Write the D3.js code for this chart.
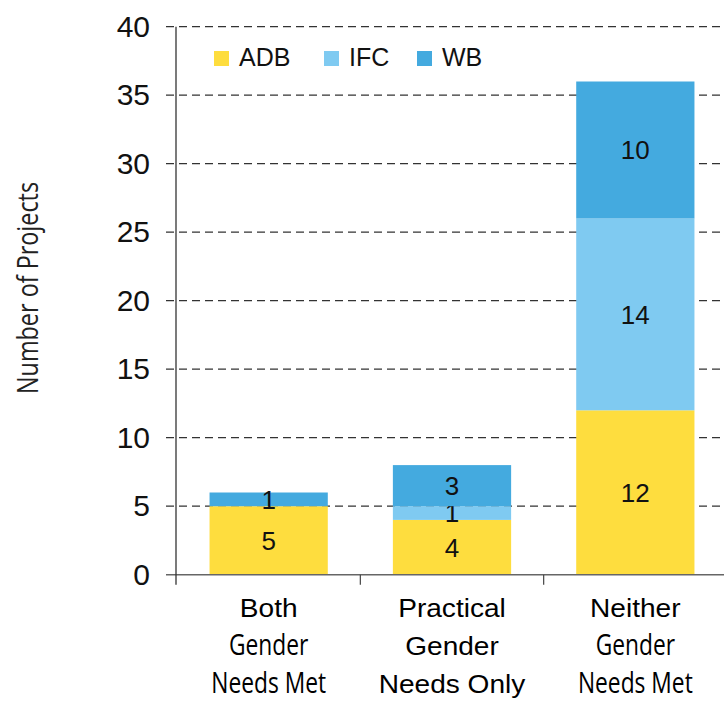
<!DOCTYPE html>
<html>
<head>
<meta charset="utf-8">
<script src="https://cdn.jsdelivr.net/npm/d3@7"></script>
<style>
  body { margin: 0; background: #fff; }
  svg { display: block; }
</style>
</head>
<body>
<svg id="chart" width="724" height="702"></svg>
<script>
const categories = ['both', 'practical', 'neither']
const categoryLines = [
  [{ t: 'Both', narrow: false }, { t: 'Gender', narrow: true }, { t: 'Needs Met', narrow: true }],
  [{ t: 'Practical', narrow: false }, { t: 'Gender', narrow: false }, { t: 'Needs Only', narrow: false }],
  [{ t: 'Neither', narrow: false }, { t: 'Gender', narrow: true }, { t: 'Needs Met', narrow: true }]
]
const seriesNames = ['ADB', 'IFC', 'WB']
const adbValues = [5, 4, 12]
const ifcValues = [0, 1, 14]
const wbValues = [1, 3, 10]
const yTicks = [0, 5, 10, 15, 20, 25, 30, 35, 40]
const colors = { ADB: '#FEDD3E', IFC: '#7FCAF1', WB: '#44AADF' }

const sans = '"Liberation Sans", Arial, sans-serif'
const narrow = '"Open Sans", "Noto Sans", sans-serif'

const svg = d3.select('#chart')

const x = d3.scaleBand()
  .domain(categories)
  .range([177, 727])
  .paddingInner(0.355)
  .paddingOuter(0.1775)

const y = d3.scaleLinear()
  .domain([0, 40])
  .range([574.7, 26.7])

// Table for stacking
const table = categories.map((c, i) => ({
  cat: c, ADB: adbValues[i], IFC: ifcValues[i], WB: wbValues[i]
}))
const stacked = d3.stack().keys(seriesNames)(table)

// Gridlines
svg.append('g')
  .selectAll('line')
  .data(yTicks.filter(d => d > 0))
  .enter()
  .append('line')
  .attr('x1', 166)
  .attr('x2', 722)
  .attr('y1', d => y(d))
  .attr('y2', d => y(d))
  .style('stroke', '#333')
  .style('stroke-width', 1.2)
  .style('stroke-dasharray', '8,5')

// Bars
const layers = svg.append('g')
  .selectAll('.layer')
  .data(stacked)
  .enter()
  .append('g')
  .classed('layer', true)
  .style('fill', d => colors[d.key])

layers.selectAll('rect')
  .data(d => d)
  .enter()
  .append('rect')
  .attr('x', d => x(d.data.cat))
  .attr('width', x.bandwidth())
  .attr('y', d => y(d[1]))
  .attr('height', d => y(d[0]) - y(d[1]))

// Value labels
layers.selectAll('text')
  .data(d => d.filter(v => v[1] - v[0] > 0))
  .enter()
  .append('text')
  .attr('x', d => x(d.data.cat) + x.bandwidth() / 2)
  .attr('y', d => y((d[0] + d[1]) / 2))
  .attr('dy', '0.36em')
  .attr('text-anchor', 'middle')
  .style('fill', '#111')
  .style('font-family', sans)
  .style('font-size', '26px')
  .text(d => d[1] - d[0])

// X axis line and ticks
svg.append('line')
  .attr('x1', 166).attr('x2', 724)
  .attr('y1', y(0)).attr('y2', y(0))
  .style('stroke', '#666')
  .style('stroke-width', 1.5)

svg.append('g')
  .selectAll('line')
  .data(categories.slice(1))
  .enter()
  .append('line')
  .attr('x1', d => x(d) - x.step() * x.paddingInner() / 2)
  .attr('x2', d => x(d) - x.step() * x.paddingInner() / 2)
  .attr('y1', y(0))
  .attr('y2', y(0) + 10)
  .style('stroke', '#444')
  .style('stroke-width', 1.2)

// Y axis line
svg.append('line')
  .attr('x1', 176).attr('x2', 176)
  .attr('y1', y(40)).attr('y2', y(0) + 10)
  .style('stroke', '#333')
  .style('stroke-width', 1.3)

// Y axis labels
const yAxis = svg.append('g')
  .attr('transform', 'translate(176,0)')
  .call(d3.axisLeft(y).tickValues(yTicks).tickSize(0).tickPadding(26))
yAxis.select('.domain').remove()
yAxis.selectAll('text')
  .style('font-family', sans)
  .style('font-size', '30px')
  .style('fill', '#111')

// Category labels (mixed wide / condensed fonts as in source)
const lineY = [617, 655, 693]
categories.forEach((c, i) => {
  const cx = x(c) + x.bandwidth() / 2
  categoryLines[i].forEach((line, j) => {
    svg.append('g')
      .attr('transform', `translate(${cx},${lineY[j]}) scale(${line.narrow ? 0.76 : 1.08},1)`)
      .append('text')
      .attr('text-anchor', 'middle')
      .style('font-family', line.narrow ? narrow : sans)
      .style('font-size', line.narrow ? '30px' : '26px')
      .style('font-weight', line.narrow ? 500 : 400)
      .style('fill', '#000')
      .text(line.t)
  })
})

// Y title
svg.append('g')
  .attr('transform', 'translate(38,288) rotate(-90) scale(0.78,1)')
  .append('text')
  .attr('text-anchor', 'middle')
  .style('font-family', narrow)
  .style('font-size', '30px')
  .style('fill', '#222')
  .text('Number of Projects')

// Legend
const legendX = [214, 324, 417]
const legend = svg.append('g')
  .selectAll('g')
  .data(seriesNames)
  .enter()
  .append('g')
  .attr('transform', (d, i) => `translate(${legendX[i]},51)`)

legend.append('rect')
  .attr('width', 15)
  .attr('height', 15)
  .style('fill', d => colors[d])

legend.append('text')
  .attr('x', 25)
  .attr('y', 15)
  .style('font-family', sans)
  .style('font-size', '25px')
  .style('fill', '#111')
  .text(d => d)
</script>
</body>
</html>
